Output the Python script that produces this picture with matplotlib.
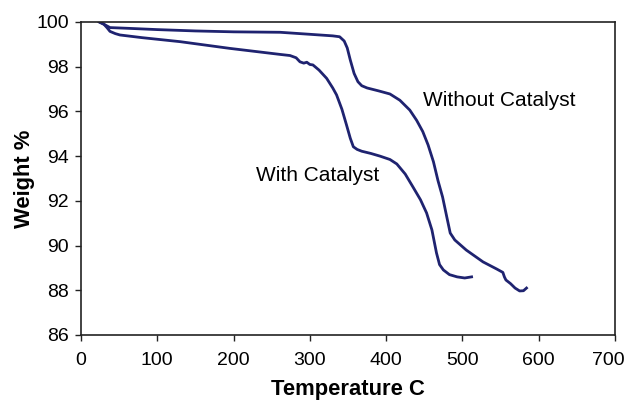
import matplotlib
matplotlib.use('Agg')
import matplotlib.pyplot as plt
from matplotlib.transforms import ScaledTranslation

plt.rcParams['font.family'] = ['Liberation Sans', 'DejaVu Sans']

# Without catalyst (upper curve)
temp_without = [24, 30, 38, 60, 100, 150, 200, 261, 300, 330, 339, 345, 349, 353, 358, 363,
                368, 375, 390, 405, 418, 431, 440, 448, 455, 462, 468, 474, 480, 484, 490,
                505, 527, 545, 553, 555, 557, 563, 569, 575, 580, 584]
weight_without = [100.0, 99.9, 99.75, 99.72, 99.66, 99.6, 99.56, 99.54, 99.45, 99.38, 99.34,
                  99.15, 98.84, 98.3, 97.7, 97.33, 97.15, 97.05, 96.92, 96.78, 96.5, 96.06,
                  95.6, 95.1, 94.5, 93.75, 92.9, 92.17, 91.2, 90.56, 90.25, 89.8, 89.27,
                  88.95, 88.8, 88.6, 88.46, 88.3, 88.1, 87.97, 87.98, 88.1]

# With catalyst (lower curve)
temp_with = [24, 30, 34, 38, 45, 51, 80, 130, 195, 261, 274, 282, 287, 292, 296, 300, 304,
             312, 322, 330, 335, 342, 348, 353, 357, 362, 368, 380, 392, 405, 414, 425,
             435, 445, 453, 460, 466, 470, 475, 483, 493, 503, 512]
weight_with = [100.0, 99.9, 99.75, 99.58, 99.48, 99.42, 99.3, 99.12, 98.82, 98.55, 98.5,
               98.4, 98.22, 98.16, 98.2, 98.1, 98.08, 97.85, 97.48, 97.05, 96.74, 96.1,
               95.4, 94.8, 94.42, 94.3, 94.22, 94.12, 94.0, 93.85, 93.65, 93.2, 92.63,
               92.05, 91.46, 90.7, 89.67, 89.15, 88.91, 88.7, 88.6, 88.55, 88.6]

line_color = '#1f2370'

fig = plt.figure(figsize=(6.28, 4.04), dpi=100)
ax = fig.add_axes([81 / 628, 1 - 335 / 404, 534 / 628, 313 / 404])

ax.plot(temp_without, weight_without, color=line_color, lw=2)
ax.plot(temp_with, weight_with, color=line_color, lw=2)

ax.text(448, 96.5, 'Without Catalyst', fontsize=15, va='center')
ax.text(229, 93.15, 'With Catalyst', fontsize=15, va='center')

ax.set_xlim(0, 700)
ax.set_ylim(86, 100)
ax.set_xticks(range(0, 701, 100))
ax.set_yticks(range(86, 101, 2))
ax.tick_params(labelsize=14, direction='out', length=4, width=1, colors='#222222',
               labelcolor='black')
ax.tick_params(axis='x', pad=8.5)
ax.tick_params(axis='y', pad=4.5)
for s in ax.spines.values():
    s.set_color('#222222')
    s.set_linewidth(1.2)

# last x label sits a bit to the left so it stays inside the picture
last = ax.get_xticklabels()[-1]
last.set_transform(last.get_transform() + ScaledTranslation(-0.07, 0, fig.dpi_scale_trans))

ax.set_xlabel('Temperature C', fontsize=15.8, fontweight='bold', labelpad=7)
ax.set_ylabel('Weight %', fontsize=15.8, fontweight='bold', labelpad=1)

fig.savefig('out.png', dpi=100)
